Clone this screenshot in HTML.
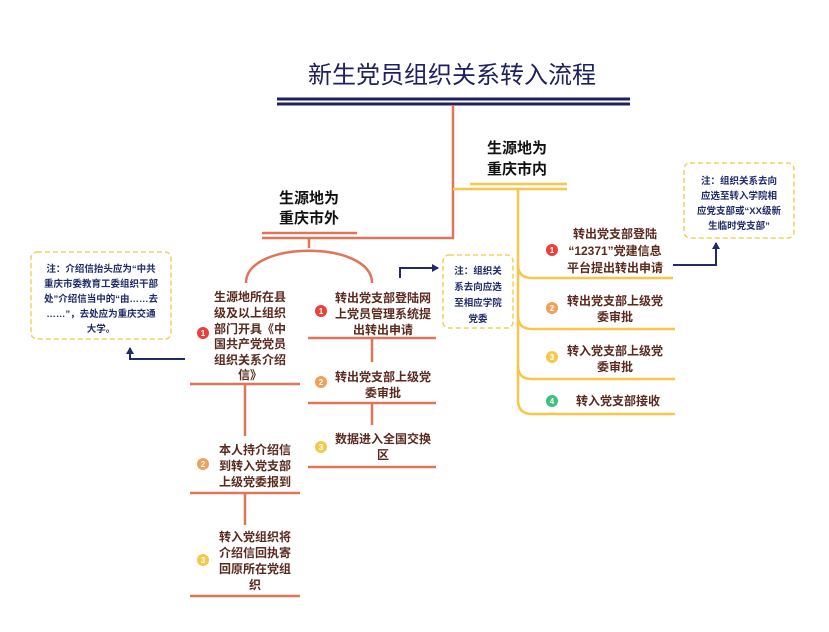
<!DOCTYPE html>
<html><head><meta charset="utf-8"><style>
html,body{margin:0;padding:0;background:#fff;}
svg{display:block;}
text{font-family:"Liberation Sans","Noto Sans CJK SC",sans-serif;}
.n{font-size:12px;font-weight:bold;fill:#5a2a1e;text-anchor:middle;}
.h{font-size:15px;font-weight:bold;fill:#111;text-anchor:middle;}
.note{font-size:9.5px;font-weight:bold;fill:#1f2a6b;text-anchor:middle;}
.b{font-size:8px;font-weight:bold;fill:#fff;text-anchor:middle;}
</style></head><body>
<svg width="829" height="632" viewBox="0 0 829 632" xmlns="http://www.w3.org/2000/svg">
<defs><marker id="a" markerWidth="8" markerHeight="8" refX="6" refY="4" orient="auto" markerUnits="userSpaceOnUse"><path d="M0,0 L7,4 L0,8 Z" fill="#1f2a6b"/></marker></defs>
<text x="452" y="83" font-size="24" fill="#1f2060" text-anchor="middle">新生党员组织关系转入流程</text>
<line x1="277" y1="99" x2="630" y2="99" stroke="#1f2060" stroke-width="3"/>
<line x1="277" y1="104" x2="630" y2="104" stroke="#1f2060" stroke-width="3"/>
<g stroke="#e2745a" stroke-width="2.5" fill="none">
<polyline points="453,105 453,238 262,238"/>
<line x1="262" y1="233" x2="357" y2="233"/>
<line x1="309" y1="238" x2="309" y2="248"/>
<path d="M246,283 C246,240 372,240 372,283"/>
<line x1="190" y1="384" x2="300" y2="384"/>
<line x1="245" y1="384" x2="245" y2="436"/>
<line x1="190" y1="493" x2="300" y2="493"/>
<line x1="245" y1="493" x2="245" y2="525"/>
<line x1="190" y1="596" x2="300" y2="596"/>
<line x1="308" y1="338" x2="436" y2="338"/>
<line x1="372" y1="338" x2="372" y2="362"/>
<line x1="308" y1="403" x2="436" y2="403"/>
<line x1="372" y1="403" x2="372" y2="425"/>
<line x1="308" y1="467" x2="436" y2="467"/>
</g>
<g stroke="#f7c64a" stroke-width="2.5" fill="none">
<line x1="470" y1="184" x2="567" y2="184"/>
<line x1="453" y1="189" x2="567" y2="189"/>
<path d="M518,189 L518,400 Q518,414 532,414 L675,414"/>
<path d="M518,265 Q518,278 532,278 L673,278"/>
<path d="M518,316 Q518,329 532,329 L675,329"/>
<path d="M518,366 Q518,379 532,379 L675,379"/>
</g>
<text class="h" x="309" y="203">生源地为</text>
<text class="h" x="309" y="223">重庆市外</text>
<text class="h" x="517" y="153">生源地为</text>
<text class="h" x="517" y="174">重庆市内</text>

<text class="n"><tspan x="250" y="301">生源地所在县</tspan><tspan x="250" y="317">级及以上组织</tspan><tspan x="250" y="333">部门开具《中</tspan><tspan x="250" y="348">国共产党党员</tspan><tspan x="250" y="364">组织关系介绍</tspan><tspan x="250" y="379">信》</tspan></text>
<text class="n"><tspan x="255" y="454">本人持介绍信</tspan><tspan x="255" y="470">到转入党支部</tspan><tspan x="255" y="486">上级党委报到</tspan></text>
<text class="n"><tspan x="255" y="541">转入党组织将</tspan><tspan x="255" y="557">介绍信回执寄</tspan><tspan x="255" y="573">回原所在党组</tspan><tspan x="255" y="589">织</tspan></text>
<text class="n"><tspan x="383" y="302">转出党支部登陆网</tspan><tspan x="383" y="318">上党员管理系统提</tspan><tspan x="383" y="334">出转出申请</tspan></text>
<text class="n"><tspan x="383" y="381">转出党支部上级党</tspan><tspan x="383" y="397">委审批</tspan></text>
<text class="n"><tspan x="383" y="443">数据进入全国交换</tspan><tspan x="383" y="459">区</tspan></text>
<text class="n"><tspan x="615" y="238">转出党支部登陆</tspan><tspan x="615" y="255">“12371”党建信息</tspan><tspan x="615" y="272">平台提出转出申请</tspan></text>
<text class="n"><tspan x="615" y="305">转出党支部上级党</tspan><tspan x="615" y="321">委审批</tspan></text>
<text class="n"><tspan x="615" y="355">转入党支部上级党</tspan><tspan x="615" y="371">委审批</tspan></text>
<text class="n" x="618" y="405">转入党支部接收</text>

<circle cx="203" cy="333" r="6" fill="#e8413c"/><text class="b" x="203" y="336">1</text>
<circle cx="203" cy="464" r="6" fill="#f0a05a"/><text class="b" x="203" y="467">2</text>
<circle cx="203" cy="560" r="6" fill="#f2c94c"/><text class="b" x="203" y="563">3</text>
<circle cx="321" cy="311" r="6" fill="#e8413c"/><text class="b" x="321" y="314">1</text>
<circle cx="321" cy="382" r="6" fill="#f0a05a"/><text class="b" x="321" y="385">2</text>
<circle cx="321" cy="447" r="6" fill="#f2c94c"/><text class="b" x="321" y="450">3</text>
<circle cx="552" cy="250" r="6" fill="#e8413c"/><text class="b" x="552" y="253">1</text>
<circle cx="552" cy="308" r="6" fill="#f0a05a"/><text class="b" x="552" y="311">2</text>
<circle cx="552" cy="357" r="6" fill="#f2c94c"/><text class="b" x="552" y="360">3</text>
<circle cx="552" cy="401" r="6" fill="#3cc27a"/><text class="b" x="552" y="404">4</text>

<g fill="#fff" stroke="#f5cf5a" stroke-width="1.5" stroke-dasharray="5,3">
<rect x="31" y="252" width="140" height="87" rx="6"/>
<rect x="443" y="255" width="70" height="73" rx="6"/>
<rect x="684" y="163" width="110" height="75" rx="6"/>
</g>
<text class="note"><tspan x="101" y="272">注：介绍信抬头应为“中共</tspan><tspan x="101" y="287">重庆市委教育工委组织干部</tspan><tspan x="101" y="302">处”介绍信当中的“由……去</tspan><tspan x="101" y="317">……”，去处应为重庆交通</tspan><tspan x="101" y="332">大学。</tspan></text>
<text class="note"><tspan x="478" y="274">注：组织关</tspan><tspan x="478" y="290">系去向应选</tspan><tspan x="478" y="306">至相应学院</tspan><tspan x="478" y="322">党委</tspan></text>
<text class="note"><tspan x="739" y="184">注：组织关系去向</tspan><tspan x="739" y="199">应选至转入学院相</tspan><tspan x="739" y="214">应党支部或“XX级新</tspan><tspan x="739" y="229">生临时党支部”</tspan></text>

<g stroke="#1f2a6b" stroke-width="2" fill="none">
<polyline points="400,278 400,268 438,268" marker-end="url(#a)"/>
<polyline points="185,359 130,359 130,348" marker-end="url(#a)"/>
<polyline points="673,265 716,265 716,243" marker-end="url(#a)"/>
</g>
</svg></body></html>
